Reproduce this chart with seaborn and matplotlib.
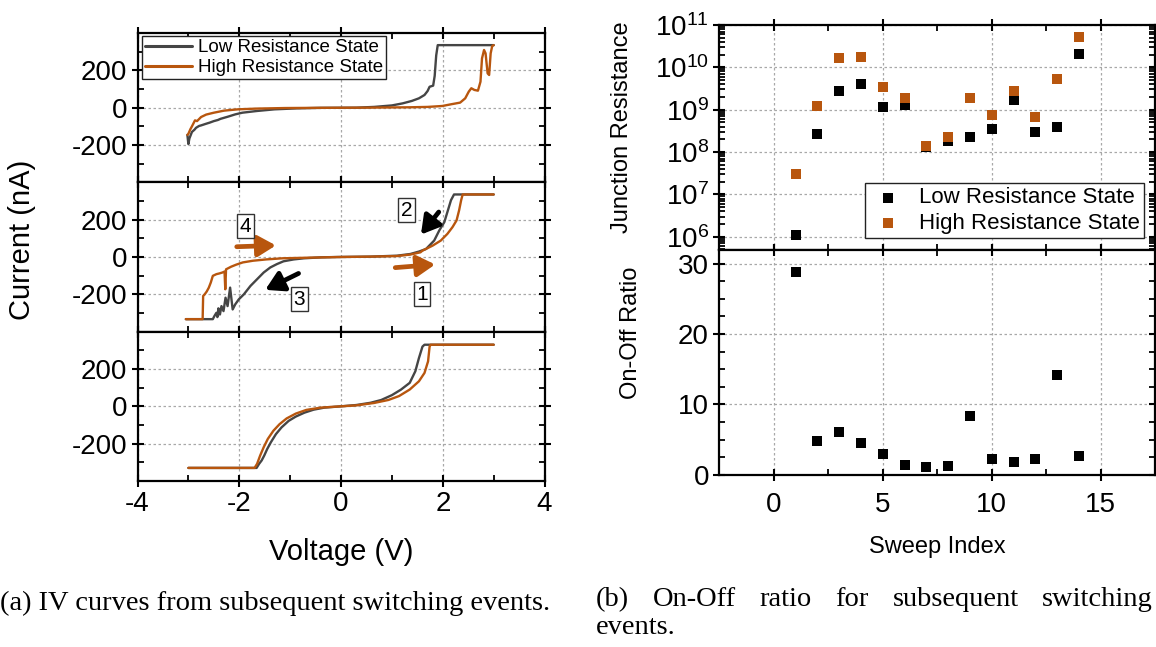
import matplotlib
matplotlib.use("Agg")
import matplotlib.pyplot as plt
import numpy as np
import pandas as pd
import seaborn as sns
from matplotlib.ticker import FixedLocator, MultipleLocator, LogLocator, NullFormatter

# ---------------- data ----------------
# IV curves: voltage (V) and current (nA)
top_lrs_v = [-3.02, -3.00, -2.98, -2.93, -2.88, -2.85, -2.79, -2.75, -2.65, -2.58, -2.50, -2.42, -2.37,
             -2.22, -2.08, -1.94, -1.66, -1.31, -0.89, -0.40, 0.30, 0.65, 1.00, 1.21, 1.39, 1.53, 1.64,
             1.70, 1.74, 1.81, 1.84, 1.87, 1.90, 3.00]
top_lrs_i = [-146, -195, -165, -130, -118, -108, -98, -95, -86, -80, -72, -66, -60,
             -48, -36, -27, -18, -9, -4, -1, 0, 4, 12, 23, 36, 50, 68,
             89, 112, 118, 170, 280, 335, 335]
top_hrs_v = [-3.02, -3.00, -2.96, -2.93, -2.87, -2.83, -2.75, -2.65, -2.50, -2.30, -2.03, -1.66, -1.10,
             -0.50, 0.50, 1.35, 1.70, 1.99, 2.16, 2.34, 2.44, 2.51, 2.56, 2.62, 2.69, 2.74, 2.77, 2.81,
             2.84, 2.88, 2.91, 2.94, 2.97, 3.00]
top_hrs_i = [-146, -140, -115, -100, -68, -72, -50, -37, -27, -16, -9, -5, -2,
             -1, 0, 2, 4, 9, 18, 27, 50, 86, 104, 95, 91, 139, 264, 309,
             291, 184, 175, 291, 330, 335]

mid_lrs_v = [-3.05, -2.52, -2.49, -2.45, -2.43, -2.41, -2.38, -2.35, -2.31, -2.27, -2.23, -2.18, -2.13,
             -2.08, -2.01, -1.91, -1.78, -1.65, -1.52, -1.39, -1.26, -1.13, -0.93, -0.73, -0.40, -0.08,
             0.58, 1.10, 1.36, 1.53, 1.67, 1.83, 1.93, 2.03, 2.09, 2.16, 2.22, 3.00]
mid_lrs_i = [-333, -333, -317, -299, -322, -275, -308, -263, -290, -218, -263, -164, -281,
             -254, -227, -200, -155, -119, -83, -56, -38, -23, -13, -7, -2, 0,
             2, 7, 16, 29, 43, 88, 142, 187, 241, 304, 335, 335]
mid_hrs_v = [-3.05, -2.72, -2.71, -2.68, -2.64, -2.60, -2.56, -2.52, -2.45, -2.39, -2.33, -2.29, -2.275,
             -2.26, -2.16, -2.06, -1.93, -1.73, -1.47, -1.15, -0.69, 0.00, 0.58, 1.10, 1.36, 1.56,
             1.60, 1.80, 1.96, 2.09, 2.19, 2.27, 2.32, 2.36, 2.39, 3.00]
mid_hrs_i = [-333, -333, -209, -200, -185, -165, -137, -101, -92, -88, -83, -78, -173,
             -66, -52, -41, -29, -20, -13, -7, -4, 0, 2, 5, 13, 25,
             34, 61, 88, 124, 160, 196, 250, 304, 335, 335]

bot_lrs_v = [-3.00, -1.66, -1.61, -1.56, -1.51, -1.45, -1.38, -1.28, -1.17, -1.03, -0.89, -0.72, -0.54,
             -0.33, 0.00, 0.30, 0.58, 0.79, 1.00, 1.18, 1.35, 1.46, 1.53, 1.60, 1.64, 3.00]
bot_lrs_i = [-330, -330, -308, -290, -264, -228, -193, -149, -113, -78, -55, -34, -18,
             -7, 0, 7, 19, 34, 60, 90, 126, 188, 258, 320, 330, 330]
bot_hrs_v = [-3.00, -1.70, -1.65, -1.59, -1.52, -1.44, -1.33, -1.21, -1.07, -0.89, -0.68, -0.40, 0.00,
             0.30, 0.65, 0.93, 1.14, 1.35, 1.53, 1.64, 1.71, 1.74, 1.76, 3.00]
bot_hrs_i = [-330, -330, -308, -264, -219, -175, -131, -96, -65, -39, -19, -7, 0,
             5, 18, 34, 55, 90, 134, 179, 241, 320, 330, 330]

# Resistance per sweep
sweep_index = [1, 2, 3, 4, 5, 6, 7, 8, 9, 10, 11, 12, 13, 14]
lrs_resistance = [1.1e6, 2.6e8, 2.8e9, 4.1e9, 1.18e9, 1.3e9, 1.3e8, 1.86e8, 2.24e8, 3.45e8, 1.7e9,
                  2.94e8, 3.8e8, 2.05e10]
hrs_resistance = [3.1e7, 1.25e9, 1.7e10, 1.8e10, 3.5e9, 1.9e9, 1.4e8, 2.3e8, 1.9e9, 7.5e8, 2.8e9,
                  6.6e8, 5.3e9, 5.35e10]
on_off_ratio = [28.8, 4.8, 6.0, 4.5, 2.95, 1.4, 1.05, 1.25, 8.3, 2.2, 1.75, 2.3, 14.2, 2.6]

states = ["Low Resistance State", "High Resistance State"]
iv_x_ticks = [-4, -2, 0, 2, 4]
iv_y_ticks = [-200, 0, 200]

# ---------------- style ----------------
GRAY = "#454545"
ORANGE = "#b8560e"
sns.set_theme(style="ticks")
plt.rcParams["font.family"] = ["Liberation Sans", "DejaVu Sans"]
plt.rcParams["mathtext.default"] = "regular"
plt.rcParams["axes.unicode_minus"] = False
plt.rcParams["axes.linewidth"] = 1.6
plt.rcParams["text.color"] = "black"
plt.rcParams["axes.labelcolor"] = "black"
plt.rcParams["xtick.color"] = "black"
plt.rcParams["ytick.color"] = "black"

fig = plt.figure(figsize=(11.56, 6.47), dpi=100)
W, H = 1156.0, 647.0


def px_axes(x0, y0, x1, y1):
    return fig.add_axes([x0 / W, 1 - y1 / H, (x1 - x0) / W, (y1 - y0) / H])


def style_ticks(ax, size=20):
    ax.tick_params(which="major", direction="inout", length=9, width=1.5, top=True, right=True,
                   labelsize=size, colors="black", pad=3)
    ax.tick_params(which="minor", direction="in", length=4.5, width=1.3, top=True, right=True)
    for s in ax.spines.values():
        s.set_color("black")
        s.set_linewidth(1.6)
    ax.grid(which="major", linestyle=(0, (2, 2)), color="#a8a8a8", linewidth=0.9)
    ax.set_axisbelow(True)


# ---------------- left: IV curves ----------------
panels = [
    (top_lrs_v, top_lrs_i, top_hrs_v, top_hrs_i),
    (mid_lrs_v, mid_lrs_i, mid_hrs_v, mid_hrs_i),
    (bot_lrs_v, bot_lrs_i, bot_hrs_v, bot_hrs_i),
]
top_px = 33.0
ph = 149.33
iv_axes = []
for k, (lv, li, hv, hi) in enumerate(panels):
    ax = px_axes(137.5, top_px + k * ph, 544.6, top_px + (k + 1) * ph)
    df = pd.concat([
        pd.DataFrame({"V": lv, "I": li, "state": states[0]}),
        pd.DataFrame({"V": hv, "I": hi, "state": states[1]}),
    ], ignore_index=True)
    sns.lineplot(data=df, x="V", y="I", hue="state", hue_order=states,
                 palette=[GRAY, ORANGE], sort=False, estimator=None, linewidth=1.7,
                 legend=(k == 0), ax=ax)
    ax.set_xlim(-4, 4)
    ax.set_ylim(-400, 400)
    ax.xaxis.set_major_locator(FixedLocator(iv_x_ticks))
    ax.xaxis.set_minor_locator(MultipleLocator(1))
    ax.yaxis.set_major_locator(FixedLocator(iv_y_ticks))
    ax.yaxis.set_minor_locator(FixedLocator([-300, -100, 100, 300]))
    style_ticks(ax)
    ax.set_xlabel("")
    ax.set_ylabel("")
    if k < 2:
        ax.tick_params(axis="x", labelbottom=False)
    iv_axes.append(ax)

leg = iv_axes[0].legend(loc="upper left", bbox_to_anchor=(0.012, 0.978), fontsize=13.5,
                        frameon=True, fancybox=False, edgecolor="#222222", framealpha=1,
                        handlelength=2.5, handletextpad=0.3, borderpad=0.15, labelspacing=0.15,
                        borderaxespad=0.0)
leg.get_frame().set_linewidth(1.0)
for ln in leg.get_lines():
    ln.set_linewidth(2.2)

# annotations in the middle panel
axm = iv_axes[1]
arrow_kw = dict(arrowstyle="-|>,head_length=0.6,head_width=0.35", lw=3.4, shrinkA=0, shrinkB=0,
                mutation_scale=18)
axm.annotate("", xy=(-1.28, 62), xytext=(-2.05, 55), arrowprops=dict(color=ORANGE, **arrow_kw))
axm.annotate("", xy=(1.85, -40), xytext=(1.065, -57), arrowprops=dict(color=ORANGE, **arrow_kw))
axm.annotate("", xy=(1.57, 120), xytext=(1.92, 241), arrowprops=dict(color="black", **arrow_kw))
axm.annotate("", xy=(-1.49, -176), xytext=(-0.835, -88), arrowprops=dict(color="black", **arrow_kw))
box_kw = dict(boxstyle="square,pad=0.12", fc="white", ec="#333333", lw=1.0)
for lbl, (bx, by) in {"4": (-1.88, 164), "1": (1.59, -200), "2": (1.29, 250), "3": (-0.82, -227)}.items():
    axm.text(bx, by, lbl, ha="center", va="center", fontsize=15, bbox=box_kw, zorder=5)

fig.text(22.5 / W, 1 - 240 / H, "Current (nA)", rotation=90, ha="center", va="center", fontsize=21)
fig.text(341 / W, 1 - 552 / H, "Voltage (V)", ha="center", va="center", fontsize=21)

# ---------------- right: resistance and ratio ----------------
axr1 = px_axes(719.3, 25.0, 1155.3, 249.5)
axr2 = px_axes(719.3, 249.5, 1155.3, 474.7)

sns.scatterplot(x=sweep_index, y=lrs_resistance, marker="s", s=48, color="black", linewidth=0,
                label=states[0], ax=axr1)
sns.scatterplot(x=sweep_index, y=hrs_resistance, marker="s", s=48, color=ORANGE, linewidth=0,
                label=states[1], ax=axr1)
axr1.set_yscale("log")
axr1.set_ylim(5e5, 1e11)
axr1.yaxis.set_major_locator(LogLocator(base=10, numticks=12))
axr1.yaxis.set_minor_locator(LogLocator(base=10, subs=np.arange(2, 10), numticks=12))
axr1.yaxis.set_minor_formatter(NullFormatter())

sns.scatterplot(x=sweep_index, y=on_off_ratio, marker="s", s=48, color="black", linewidth=0, ax=axr2)
axr2.set_ylim(0, 32)
axr2.yaxis.set_major_locator(FixedLocator([0, 10, 20, 30]))
axr2.yaxis.set_minor_locator(MultipleLocator(2.5))

for ax in (axr1, axr2):
    ax.set_xlim(-2.5, 17.5)
    ax.xaxis.set_major_locator(FixedLocator([0, 5, 10, 15]))
    ax.xaxis.set_minor_locator(MultipleLocator(2.5))
    style_ticks(ax)
axr1.tick_params(axis="x", labelbottom=False)
axr2.tick_params(axis="x", pad=8)

leg2 = axr1.legend(loc="lower right", bbox_to_anchor=(0.974, 0.05), fontsize=16, frameon=True,
                   fancybox=False, edgecolor="#222222", framealpha=1, handletextpad=0.6,
                   handlelength=1.6, borderpad=0.2, labelspacing=0.2, borderaxespad=0.0,
                   markerscale=1.0)
leg2.get_frame().set_linewidth(1.0)

fig.text(622 / W, 1 - 127 / H, "Junction Resistance", rotation=90, ha="center", va="center", fontsize=17)
fig.text(631 / W, 1 - 333 / H, "On-Off Ratio", rotation=90, ha="center", va="center", fontsize=17)
fig.text(937.5 / W, 1 - 547 / H, "Sweep Index", ha="center", va="center", fontsize=17)

# ---------------- captions ----------------
serif = ["Liberation Serif", "DejaVu Serif"]
fig.text(0 / W, 1 - 603 / H, "(a) IV curves from subsequent switching events.", ha="left",
         va="center", fontsize=20.5, family=serif)

# justified first line of caption (b) between x=596 and x=1153 px
cap_words = ["(b)", "On-Off", "ratio", "for", "subsequent", "switching"]
renderer = fig.canvas.get_renderer()
word_objs = [fig.text(0, 1 - 600 / H, wd, ha="left", va="center", fontsize=20.5, family=serif)
             for wd in cap_words]
widths = [t.get_window_extent(renderer=renderer).width for t in word_objs]
x_start, x_end = 596.0, 1153.0
gap = (x_end - x_start - sum(widths)) / (len(cap_words) - 1)
xx = x_start
for t, w in zip(word_objs, widths):
    t.set_x(xx / W)
    xx += w + gap
fig.text(596 / W, 1 - 628 / H, "events.", ha="left", va="center", fontsize=20.5, family=serif)

fig.savefig("out.png", dpi=100)
